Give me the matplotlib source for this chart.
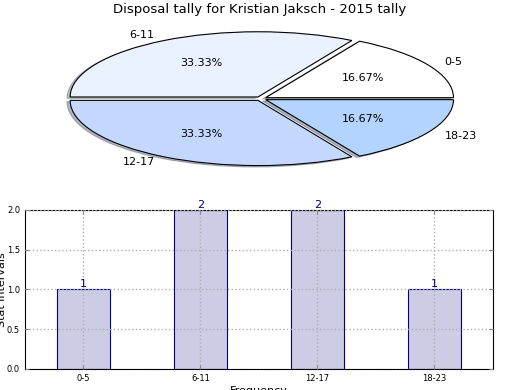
import matplotlib.pyplot as plt

categories = ['0-5', '6-11', '12-17', '18-23']
counts = [1, 2, 2, 1]
pie_colors = ['#ffffff', '#eaf1ff', '#c4d8ff', '#b3d4ff']
yticks = [0.0, 0.5, 1.0, 1.5, 2.0]

fig = plt.figure(figsize=(5.2, 3.9), dpi=100)

# pie on top, not equal aspect so it gets stretched into an ellipse
ax1 = fig.add_axes([0.05, 0.538, 0.903, 0.418])
wedges, texts, autotexts = ax1.pie(counts, labels=categories, colors=pie_colors,
                                   explode=[0.03] * 4, autopct='%1.2f%%',
                                   shadow={'ox': -0.012, 'oy': -0.015, 'shade': 0.5},
                                   startangle=0, wedgeprops={'edgecolor': 'black', 'linewidth': 0.8},
                                   textprops={'fontsize': 8})
ax1.set_aspect('auto')
fig.text(0.5, 1 - 10 / 390, 'Disposal tally for Kristian Jaksch - 2015 tally',
         ha='center', va='center', fontsize=9.5)

# bar chart below
ax2 = fig.add_axes([0.048, 0.054, 0.9, 0.408])
x = range(len(categories))
bars = ax2.bar(x, counts, width=0.45, facecolor=(0, 0, 0.5, 0.2), edgecolor='navy', linewidth=0.8)
for xi, c in zip(x, counts):
    ax2.text(xi, c, str(c), ha='center', va='bottom', color='navy', fontsize=8)

ax2.set_xlim(-0.5, 3.5)
ax2.set_ylim(0, 2.0)
ax2.set_xticks(list(x))
ax2.set_xticklabels(categories, fontsize=6)
ax2.set_yticks(yticks)
ax2.set_yticklabels(['%.1f' % t for t in yticks], fontsize=6)
ax2.tick_params(direction='in', top=True, right=True, length=3, color='#888888')
ax2.grid(True, linestyle=':', color='#b0b0b0', linewidth=1)
ax2.set_axisbelow(False)
ax2.set_xlabel('Frequency', fontsize=8, labelpad=2)
ax2.set_ylabel('Stat intervals', fontsize=8, labelpad=0)

plt.savefig('out.png', dpi=100)
